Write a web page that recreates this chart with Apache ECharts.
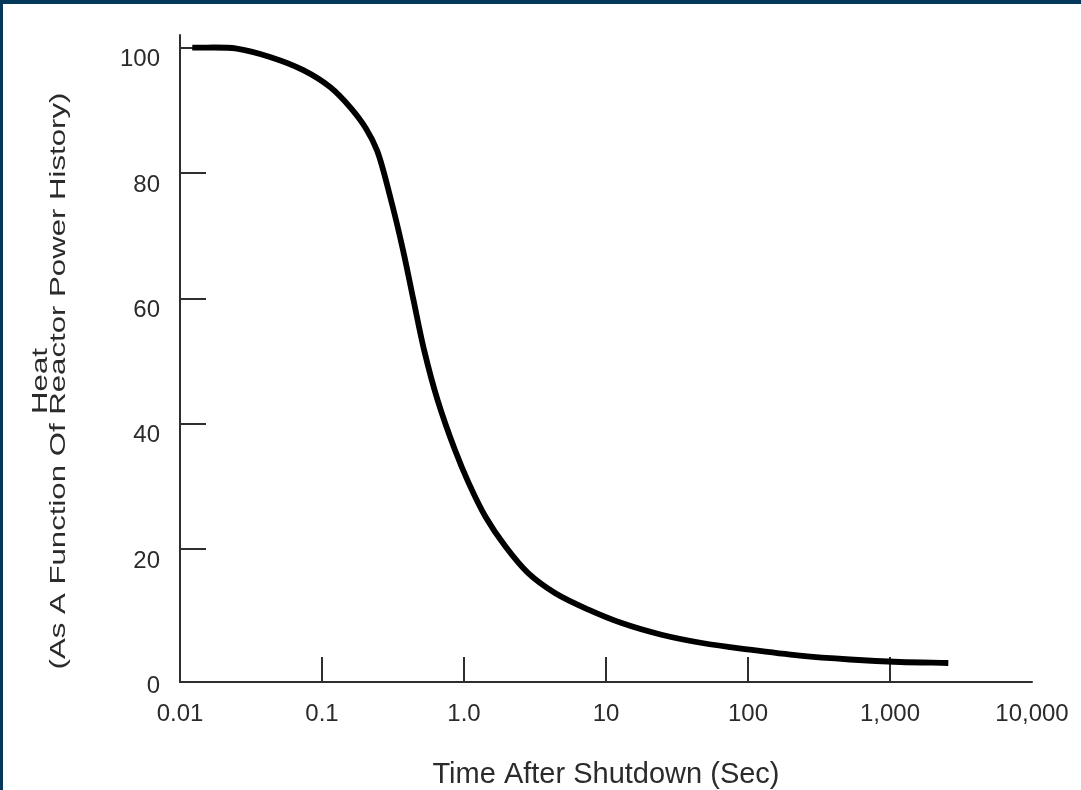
<!DOCTYPE html>
<html>
<head>
<meta charset="utf-8">
<script src="https://cdn.jsdelivr.net/npm/echarts@6/dist/echarts.min.js"></script>
<style>
  html, body { margin: 0; padding: 0; background: #ffffff; }
  #wrap { position: relative; width: 1081px; height: 790px; overflow: hidden; background: #ffffff; }
  #chart { position: absolute; left: 0; top: 0; width: 1081px; height: 790px; }
  #bt { position: absolute; left: 0; top: 0; width: 1081px; height: 4px; background: #03385a; }
  #bl { position: absolute; left: 0; top: 0; width: 3px; height: 790px; background: #03385a; }
</style>
</head>
<body>
<div id="wrap">
  <div id="chart"></div>
  <div id="bt"></div>
  <div id="bl"></div>
</div>
<script>
// Time after shutdown (s) and heat (% of reactor power history)
const timeSec = [0.0122, 0.0251, 0.043, 0.0738, 0.114, 0.1575, 0.204, 0.244, 0.306, 0.372, 0.441, 0.523, 0.651, 0.864, 1.076, 1.417, 1.96, 2.82, 4.37, 7.59, 12.9, 24.6, 47.5, 103, 232, 523, 1176, 2574];
const heatPct = [100, 99.84, 98.5, 96.4, 93.7, 90.5, 87.1, 83.6, 75.7, 67.7, 59.7, 51.8, 43.8, 35.8, 30.6, 25.15, 20.4, 16.2, 13.0, 10.3, 8.2, 6.34, 5.02, 3.95, 3.0, 2.39, 1.99, 1.83];

const xTickValues = [0.01, 0.1, 1, 10, 100, 1000, 10000];
const xTickLabels = ['0.01', '0.1', '1.0', '10', '100', '1,000', '10,000'];
const xTickMarks = [0.1, 1, 10, 100, 1000];
const yTickValues = [0, 20, 40, 60, 80, 100];
const yTickMarks = [20, 40, 60, 80, 100];

const xTitle = 'Time After Shutdown (Sec)';
const yTitle = 'Heat\n(As A Function Of Reactor Power History)';

const points = timeSec.map((t, i) => [t, heatPct[i]]);
const textColor = '#2b2b2b';
const axisColor = '#2e2e2e';
const font = '"Liberation Sans", Arial, Helvetica, sans-serif';

function xLabel(v) {
  let best = 0, bd = Infinity;
  xTickValues.forEach((tv, i) => {
    const d = Math.abs(Math.log10(v) - Math.log10(tv));
    if (d < bd) { bd = d; best = i; }
  });
  return xTickLabels[best];
}

// Centripetal Catmull-Rom through the pixel positions given by the axes
function smoothPath(px) {
  const n = px.length;
  const P = i => px[Math.max(0, Math.min(n - 1, i))];
  const dist = (a, b) => Math.max(1e-6, Math.sqrt(Math.hypot(b[0] - a[0], b[1] - a[1])));
  let d = 'M' + px[0][0] + ' ' + px[0][1];
  for (let i = 0; i < n - 1; i++) {
    const p0 = P(i - 1), p1 = P(i), p2 = P(i + 1), p3 = P(i + 2);
    const d1 = (i === 0) ? dist(p1, p2) : dist(p0, p1);
    const d2 = dist(p1, p2);
    const d3 = (i === n - 2) ? dist(p1, p2) : dist(p2, p3);
    const q0 = (i === 0) ? [2 * p1[0] - p2[0], 2 * p1[1] - p2[1]] : p0;
    const q3 = (i === n - 2) ? [2 * p2[0] - p1[0], 2 * p2[1] - p1[1]] : p3;
    const b1 = [0, 1].map(k => (d1 * d1 * p2[k] - d2 * d2 * q0[k] + (2 * d1 * d1 + 3 * d1 * d2 + d2 * d2) * p1[k]) / (3 * d1 * (d1 + d2)));
    const b2 = [0, 1].map(k => (d3 * d3 * p1[k] - d2 * d2 * q3[k] + (2 * d3 * d3 + 3 * d3 * d2 + d2 * d2) * p2[k]) / (3 * d3 * (d3 + d2)));
    d += ' C' + b1[0] + ' ' + b1[1] + ' ' + b2[0] + ' ' + b2[1] + ' ' + p2[0] + ' ' + p2[1];
  }
  return d;
}

const chart = echarts.init(document.getElementById('chart'), null, { renderer: 'canvas' });
chart.setOption({
  backgroundColor: '#ffffff',
  animation: false,
  grid: { left: 180, right: 49, top: 35, bottom: 108, containLabel: false, outerBoundsMode: 'none' },
  xAxis: {
    type: 'log',
    logBase: 10,
    min: 0.01,
    max: 10000,
    interval: 1,
    name: xTitle,
    nameLocation: 'middle',
    nameGap: 78,
    nameTextStyle: { fontSize: 29, color: textColor, fontFamily: font },
    axisLine: { show: true, onZero: false, lineStyle: { color: axisColor, width: 2 } },
    axisTick: { show: true, inside: true, length: 25, customValues: xTickMarks, lineStyle: { color: axisColor, width: 2 } },
    minorTick: { show: false },
    splitLine: { show: false },
    axisLabel: {
      customValues: xTickValues,
      margin: 20,
      fontSize: 24,
      color: textColor,
      fontFamily: font,
      showMinLabel: true,
      showMaxLabel: true,
      formatter: xLabel
    }
  },
  yAxis: {
    type: 'value',
    min: -1.2,
    max: 102,
    axisLine: { show: true, onZero: false, lineStyle: { color: axisColor, width: 2 } },
    axisTick: { show: true, inside: true, length: 26, customValues: yTickMarks, lineStyle: { color: axisColor, width: 2 } },
    splitLine: { show: false },
    axisLabel: {
      customValues: yTickValues,
      margin: 20,
      fontSize: 24,
      lineHeight: 24,
      verticalAlign: 'top',
      color: textColor,
      fontFamily: font,
      formatter: v => String(Math.round(v))
    }
  },
  graphic: [{
    type: 'text',
    x: 50.5,
    y: 381,
    rotation: Math.PI / 2,
    scaleX: 1.45,
    scaleY: 1,
    style: {
      text: yTitle,
      fontSize: 21.5,
      lineHeight: 18,
      fontFamily: font,
      fill: textColor,
      align: 'center',
      verticalAlign: 'middle'
    },
    silent: true
  }],
  series: [{
    type: 'custom',
    coordinateSystem: 'cartesian2d',
    data: points,
    encode: { x: 0, y: 1 },
    silent: true,
    clip: false,
    renderItem: function (params, api) {
      if (params.dataIndex !== 0) return { type: 'group', children: [] };
      const px = points.map(p => api.coord(p));
      return {
        type: 'path',
        shape: { pathData: smoothPath(px) },
        style: { fill: null, stroke: '#000000', lineWidth: 5.8, lineCap: 'butt', lineJoin: 'round' }
      };
    }
  }]
});
</script>
</body>
</html>
